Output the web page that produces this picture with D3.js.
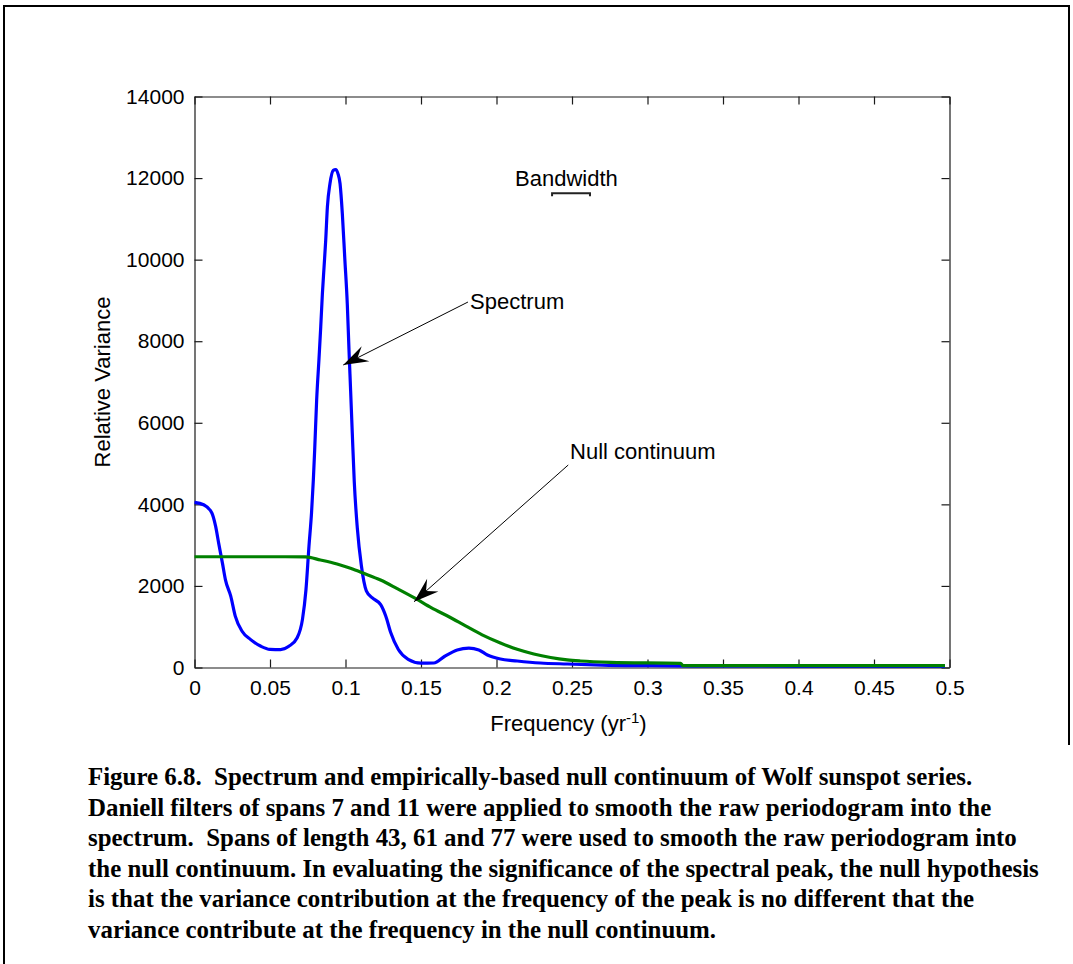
<!DOCTYPE html>
<html>
<head>
<meta charset="utf-8">
<script src="https://cdn.jsdelivr.net/npm/d3@7"></script>
<style>
  html, body { margin: 0; padding: 0; background: #fff; }
  svg { display: block; }
  .axis text { font-family: "Liberation Sans", Arial, sans-serif; font-size: 21px; fill: #000; }
  .axis path, .axis line { stroke: #1a1a1a; stroke-width: 1.2; }
  .lbl { font-family: "Liberation Sans", Arial, sans-serif; font-size: 22px; fill: #000; }
  .caption { font-family: "Liberation Serif", "Times New Roman", serif; font-weight: bold; font-size: 24.9px; fill: #000; white-space: pre; }
</style>
</head>
<body>
<svg id="chart" width="1073" height="964"></svg>
<script>
// spectrum (blue)
var specFreq = [0, 0.006, 0.0115, 0.014, 0.016, 0.0185, 0.0205, 0.024, 0.027, 0.0315, 0.037, 0.044, 0.050, 0.057,
  0.0625, 0.068, 0.0715, 0.0738, 0.0758, 0.0775, 0.0787, 0.0796, 0.0809, 0.0824, 0.0836, 0.0847, 0.0858, 0.0869,
  0.088, 0.0897, 0.0919, 0.0935, 0.095, 0.0964, 0.0979, 0.0995, 0.1012, 0.1023, 0.1034, 0.1045, 0.1058, 0.1078,
  0.1105, 0.1138, 0.1178, 0.1233, 0.1267, 0.130, 0.1350, 0.1415, 0.150, 0.1585, 0.1655, 0.174, 0.1817, 0.1883,
  0.194, 0.2026, 0.2137, 0.229, 0.247, 0.27, 0.30, 0.33, 0.40, 0.45, 0.497];
var specVal = [4050, 3990, 3790, 3460, 3050, 2560, 2150, 1750, 1260, 890, 690, 520, 445, 440,
  520, 730, 1180, 1900, 2970, 3790, 4600, 5340, 6560, 7540, 8350, 9170, 9820, 10480,
  11290, 11860, 12190, 12210, 12110, 11860, 11130, 10050, 8900, 7800, 6780, 5740, 4560, 3430,
  2500, 1880, 1705, 1540, 1256, 850, 440, 200, 105, 110, 270, 430, 475, 430,
  306, 208, 160, 110, 86, 60, 45, 35, 30, 28, 25];

// null continuum (green)
var nullFreq = [0, 0.02, 0.04, 0.06, 0.0735, 0.0834, 0.0944, 0.1033, 0.1121, 0.1232, 0.1342, 0.1460, 0.1570,
  0.1685, 0.1795, 0.1905, 0.2026, 0.2137, 0.2247, 0.2358, 0.2468, 0.2556, 0.2755, 0.3219, 0.3235, 0.497];
var nullVal = [2716, 2716, 2716, 2716, 2710, 2635, 2537, 2432, 2309, 2145, 1935, 1700, 1460,
  1245, 1020, 800, 600, 445, 330, 245, 186, 159, 127, 103, 45, 45];

var xTicks = [0, 0.05, 0.1, 0.15, 0.2, 0.25, 0.3, 0.35, 0.4, 0.45, 0.5];
var xTickLabels = ["0", "0.05", "0.1", "0.15", "0.2", "0.25", "0.3", "0.35", "0.4", "0.45", "0.5"];
var yTicks = [0, 2000, 4000, 6000, 8000, 10000, 12000, 14000];

// bandwidth bar [f0, f1] and its level
var bandwidth = [0.2368, 0.2619];
var bandLevel = 11627;

// annotations: label, text pos [f, v], arrow start [f, v], arrow tip [f, v]
var notes = [
  { label: "Spectrum", text: [0.1825, 8778], from: [0.1811, 8961], tip: [0.0985, 7417] },
  { label: "Null continuum", text: [0.2487, 5100], from: [0.2475, 4965], tip: [0.1454, 1613] }
];
var bandText = [0.2123, 11806];

var captionLines = [
  "Figure 6.8.  Spectrum and empirically-based null continuum of Wolf sunspot series.",
  "Daniell filters of spans 7 and 11 were applied to smooth the raw periodogram into the",
  "spectrum.  Spans of length 43, 61 and 77 were used to smooth the raw periodogram into",
  "the null continuum. In evaluating the significance of the spectral peak, the null hypothesis",
  "is that the variance contribution at the frequency of the peak is no different that the",
  "variance contribute at the frequency in the null continuum."
];

var svg = d3.select("#chart");

// page frame
svg.append("path")
  .attr("d", "M4,964 V6 H1069 V745")
  .attr("fill", "none")
  .attr("stroke", "#000")
  .attr("stroke-width", 2);

var x = d3.scaleLinear().domain([0, 0.5]).range([194.5, 949.5]);
var y = d3.scaleLinear().domain([0, 14000]).range([667.5, 96.5]);

// axes, ticks pointing inward like matlab
svg.append("g").attr("class", "axis")
  .attr("transform", "translate(0," + y(0) + ")")
  .call(d3.axisBottom(x).tickValues(xTicks).tickFormat(function(d, i) { return xTickLabels[i]; })
    .tickSizeInner(-8).tickSizeOuter(0).tickPadding(13));

svg.append("g").attr("class", "axis")
  .attr("transform", "translate(0," + y(14000) + ")")
  .call(d3.axisTop(x).tickValues(xTicks).tickFormat("").tickSizeInner(-8).tickSizeOuter(0));

svg.append("g").attr("class", "axis")
  .attr("transform", "translate(" + x(0) + ",0)")
  .call(d3.axisLeft(y).tickValues(yTicks).tickFormat(d3.format("d"))
    .tickSizeInner(-8).tickSizeOuter(0).tickPadding(10));

svg.append("g").attr("class", "axis")
  .attr("transform", "translate(" + x(0.5) + ",0)")
  .call(d3.axisRight(y).tickValues(yTicks).tickFormat("").tickSizeInner(-8).tickSizeOuter(0));

var line = d3.line()
  .x(function(d) { return x(d[0]); })
  .y(function(d) { return y(d[1]); })
  .curve(d3.curveMonotoneX);

var specData = specFreq.map(function(f, i) { return [f, specVal[i]]; });
var nullData = nullFreq.map(function(f, i) { return [f, nullVal[i]]; });

svg.append("path")
  .datum(specData)
  .attr("d", line)
  .attr("fill", "none")
  .attr("stroke", "#0000ff")
  .attr("stroke-width", 3.2)
  .attr("stroke-linejoin", "round");

svg.append("path")
  .datum(nullData)
  .attr("d", line)
  .attr("fill", "none")
  .attr("stroke", "#008000")
  .attr("stroke-width", 3.2)
  .attr("stroke-linejoin", "round");

// bandwidth marker
svg.append("path")
  .attr("d", "M" + x(bandwidth[0]) + "," + (y(bandLevel) + 3) + "V" + y(bandLevel) +
    "H" + x(bandwidth[1]) + "V" + (y(bandLevel) + 3))
  .attr("fill", "none")
  .attr("stroke", "#222")
  .attr("stroke-width", 2);

svg.append("text").attr("class", "lbl")
  .attr("x", x(bandText[0])).attr("y", y(bandText[1]))
  .text("Bandwidth");

// arrows
notes.forEach(function(n) {
  var x0 = x(n.from[0]), y0 = y(n.from[1]);
  var x1 = x(n.tip[0]), y1 = y(n.tip[1]);
  svg.append("line")
    .attr("x1", x0).attr("y1", y0).attr("x2", x1).attr("y2", y1)
    .attr("stroke", "#000").attr("stroke-width", 1);

  var ang = Math.atan2(y1 - y0, x1 - x0) * 180 / Math.PI;
  svg.append("path")
    .attr("d", "M0,0 L-25,-8.5 L-16,0 L-25,8.5 Z")
    .attr("transform", "translate(" + x1 + "," + y1 + ") rotate(" + ang + ")")
    .attr("fill", "#000");

  svg.append("text").attr("class", "lbl")
    .attr("x", x(n.text[0])).attr("y", y(n.text[1]))
    .text(n.label);
});

// axis titles
var xt = svg.append("text").attr("class", "lbl")
  .attr("x", 568.5).attr("y", 731)
  .attr("text-anchor", "middle");
xt.append("tspan").text("Frequency (yr");
xt.append("tspan").attr("dy", -8).style("font-size", "15px").text("-1");
xt.append("tspan").attr("dy", 8).text(")");

svg.append("text").attr("class", "lbl")
  .attr("transform", "translate(109.5,382) rotate(-90)")
  .attr("text-anchor", "middle")
  .text("Relative Variance");

// caption
svg.append("g").selectAll("text")
  .data(captionLines)
  .enter().append("text")
  .attr("class", "caption")
  .attr("x", 88)
  .attr("y", function(d, i) { return 785 + i * 30.5; })
  .text(function(d) { return d; });
</script>
</body>
</html>
